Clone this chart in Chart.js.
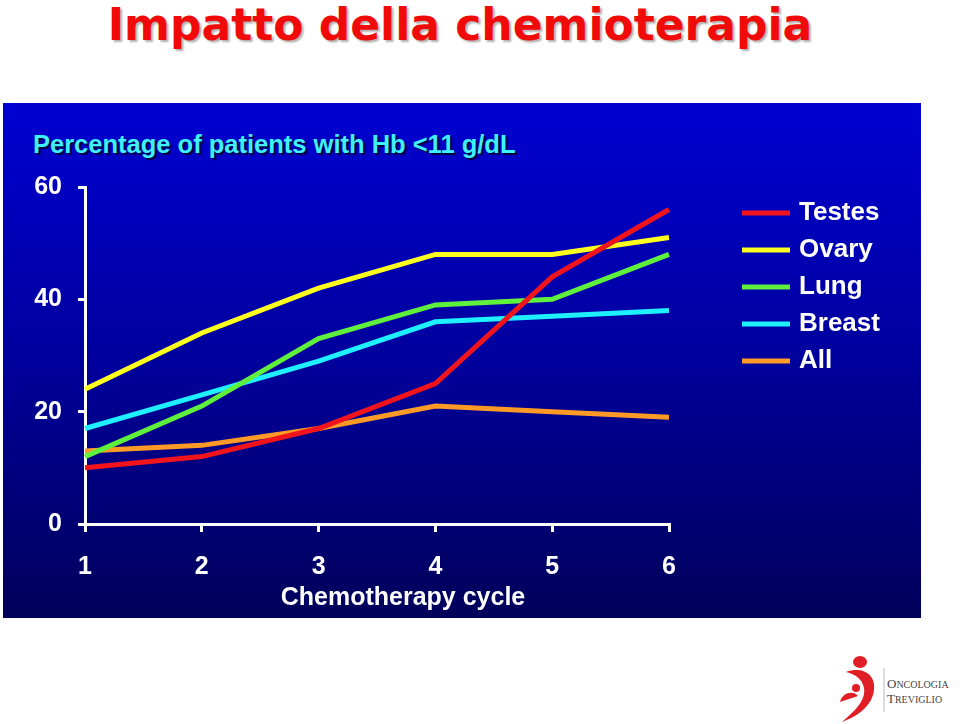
<!DOCTYPE html>
<html>
<head>
<meta charset="utf-8">
<script src="https://cdn.jsdelivr.net/npm/chart.js@4"></script>
<style>
  html, body { margin: 0; padding: 0; background: #fff; width: 960px; height: 724px; overflow: hidden; }
  #title {
    position: absolute; left: 0; top: -1px; width: 920px; text-align: center;
    font-family: "Comic Sans MS", "DejaVu Sans", sans-serif; font-weight: bold;
    font-size: 44px; color: #f00a0a; text-shadow: 2px 2px 2px #b0b0b0;
  }
  #panel {
    position: absolute; left: 3px; top: 103px; width: 918px; height: 515px;
    background: linear-gradient(#0000d2, #00009c 50%, #00005a);
  }
  #sub {
    position: absolute; left: 30px; top: 27px;
    font-family: "Liberation Sans", Arial, sans-serif; font-weight: bold; font-size: 25.5px;
    color: #3ff0ff; text-shadow: 2px 2px 1px #000040;
  }
  canvas { position: absolute; left: 0; top: 0; }
  #logo { position: absolute; left: 832px; top: 650px; }
</style>
</head>
<body>
<div id="title">Impatto della chemioterapia</div>
<div id="panel">
  <div id="sub">Percentage of patients with Hb &lt;11 g/dL</div>
  <canvas id="hbChart" width="918" height="515"></canvas>
</div>
<svg id="logo" width="128" height="74" viewBox="0 0 128 74">
  <ellipse cx="28" cy="12" rx="7" ry="6" fill="#e01e25"/>
  <path d="M14 22 C30 16 44 24 42 40 C40 56 26 66 10 72 C24 60 34 50 32 38 C30 28 22 24 14 22 Z" fill="#e01e25"/>
  <circle cx="24" cy="38" r="4" fill="#e01e25"/>
  <path d="M8 52 C10 42 22 40 26 46 C20 48 14 50 8 52 Z" fill="#e01e25"/>
  <line x1="52" y1="18" x2="52" y2="62" stroke="#bbb" stroke-width="1"/>
  <text x="55" y="38" font-family="Liberation Serif, serif" font-size="13" fill="#444">O<tspan font-size="10">NCOLOGIA</tspan></text>
  <text x="55" y="53" font-family="Liberation Serif, serif" font-size="13" fill="#444">T<tspan font-size="10">REVIGLIO</tspan></text>
</svg>
<script>
// Cicli di chemioterapia
const cycles = ['1', '2', '3', '4', '5', '6'];
const yTicks = [0, 20, 40, 60];

// % pazienti con Hb < 11 g/dL
const testes = [10, 12, 17, 25, 44, 56];
const ovary  = [24, 34, 42, 48, 48, 51];
const lung   = [12, 21, 33, 39, 40, 48];
const breast = [17, 23, 29, 36, 37, 38];
const all    = [13, 14, 17, 21, 20, 19];

const seriesNames  = ['Testes', 'Ovary', 'Lung', 'Breast', 'All'];
const seriesColors = ['#f2141c', '#ffff1e', '#5ef03c', '#1ef0ff', '#ff9a26'];

const FONT = '"Liberation Sans", Arial, sans-serif';

// legenda disegnata a mano a destra
const sideLegend = {
  id: 'sideLegend',
  afterDraw(chart) {
    const ctx = chart.ctx;
    ctx.save();
    ctx.font = 'bold 26px ' + FONT;
    ctx.textBaseline = 'middle';
    chart.data.datasets.forEach((ds, i) => {
      const y = 110 + i * 37;
      ctx.fillStyle = ds.borderColor;
      ctx.fillRect(739, y - 2.5, 48, 5);
      ctx.fillStyle = '#fff';
      ctx.fillText(ds.label, 796, y);
    });
    // titolo asse x
    ctx.font = 'bold 25px ' + FONT;
    ctx.textAlign = 'center';
    ctx.fillText('Chemotherapy cycle', 400, 495);
    ctx.restore();
  }
};

const values = [testes, ovary, lung, breast, all];

new Chart(document.getElementById('hbChart'), {
  type: 'line',
  data: {
    labels: cycles,
    datasets: values.map((v, i) => ({
      label: seriesNames[i],
      data: v,
      borderColor: seriesColors[i],
      backgroundColor: seriesColors[i],
      borderWidth: 5,
      pointRadius: 0,
      tension: 0,
      borderCapStyle: 'butt'
    }))
  },
  options: {
    responsive: false,
    animation: false,
    layout: { padding: { left: 0, right: 252, top: 84, bottom: 0 } },
    plugins: { legend: { display: false }, tooltip: { enabled: false } },
    scales: {
      x: {
        offset: false,
        afterFit: s => { s.height = 94; },
        grid: { drawOnChartArea: false, drawTicks: true, tickLength: 8, color: '#fff', lineWidth: 3 },
        border: { display: true, color: '#fff', width: 3 },
        ticks: { color: '#fff', font: { family: FONT, weight: 'bold', size: 25 }, padding: 20, maxRotation: 0 }
      },
      y: {
        min: 0, max: 60,
        afterFit: s => { s.width = 82; },
        afterBuildTicks: s => { s.ticks = yTicks.map(v => ({ value: v })); },
        grid: { drawOnChartArea: false, drawTicks: true, tickLength: 7, color: '#fff', lineWidth: 3 },
        border: { display: true, color: '#fff', width: 3 },
        ticks: { color: '#fff', font: { family: FONT, weight: 'bold', size: 25 }, padding: 16 }
      }
    }
  },
  plugins: [sideLegend]
});
</script>
</body>
</html>
